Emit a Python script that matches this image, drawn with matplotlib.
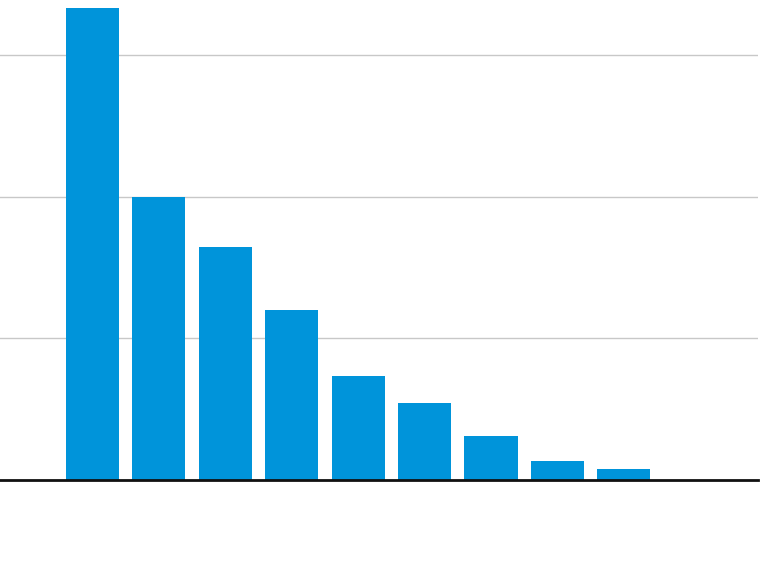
import matplotlib
matplotlib.use("Agg")
import matplotlib.pyplot as plt

# bar values (gridlines at 10, 20, 30)
positions = [0, 1, 2, 3, 4, 5, 6, 7, 8]
values = [33.3, 19.95, 16.45, 12.0, 7.35, 5.45, 3.1, 1.35, 0.8]
grid_ticks = [10, 20, 30]

fig = plt.figure(figsize=(7.6, 5.7), dpi=100)
ax = fig.add_axes([0, 90 / 570, 758 / 760, 480 / 570])

ax.bar(positions, values, width=0.8, color="#0094da", zorder=2)

ax.set_xlim(-1.39, 10.02)
ax.set_ylim(0, 33.88)
ax.set_yticks(grid_ticks)
ax.set_xticks([])
ax.yaxis.grid(True, color="#c8c8c8", linewidth=1, zorder=0)
ax.tick_params(left=False, labelleft=False)

for s in ["top", "right", "left"]:
    ax.spines[s].set_visible(False)
ax.spines["bottom"].set_color("#111111")
ax.spines["bottom"].set_linewidth(2)
ax.spines["bottom"].set_zorder(3)

fig.savefig("out.png", dpi=100)
